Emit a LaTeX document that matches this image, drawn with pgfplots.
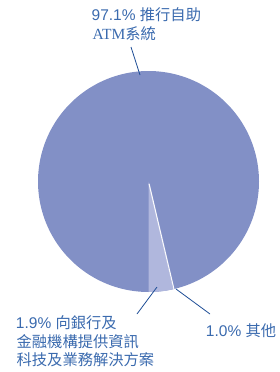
\documentclass[border=0pt]{standalone}
\usepackage{fontspec}
\setmainfont{Liberation Sans}
\newfontfamily\cjk{Noto Sans CJK TC}[Scale=0.985]
\newfontfamily\serif{Liberation Serif}
\usepackage{pgfplots}
\pgfplotsset{compat=1.18}
\definecolor{pieMain}{HTML}{8290C6}
\definecolor{pieLight}{HTML}{B0B7DD}
\definecolor{txt}{HTML}{3A6AAE}
\definecolor{lead}{HTML}{1F4E96}
\begin{document}
\begin{tikzpicture}[x=1bp,y=1bp]
\begin{axis}[scale only axis,
  width=221bp, height=221bp, xmin=-1, xmax=1, ymin=-1, ymax=1,
  hide axis, clip=false]
% 97.1% slice (drawn as full disc, others on top)
\addplot[fill=pieMain, draw=none, domain=0:360, samples=181] ({cos(x)},{sin(x)}) -- cycle;
% 1.9% slice
\addplot[fill=pieLight, draw=none, domain=270:283, samples=20] ({cos(x)},{sin(x)}) -- (axis cs:0,0) -- cycle;
% 1.0% slice separator
\addplot[white!92!pieLight, line width=1.1bp] coordinates {(0.005,-0.02) (0.2300,-0.9732)};
\end{axis}
\begin{scope}[shift={(-38,-80)}]
\path (0,0) rectangle (280,372);
\draw[lead, line width=0.8bp] (131,325) -- (140,297);
\draw[lead, line width=0.8bp] (137,58) -- (157,85);
\draw[lead, line width=0.8bp] (176,83) -- (210,58);
\begin{scope}[every node/.style={anchor=base west, inner sep=0pt, text=txt, font=\fontsize{15.5bp}{18bp}\selectfont}]
\node at (91.5,351.2) {97.1\% {\cjk 推行自助}};
\node at (92.5,333) {{\serif ATM}{\cjk 系統}};
\node at (15.8,43.7) {1.9\% {\cjk 向銀行及}};
\node at (16.5,25) {\cjk 金融機構提供資訊};
\node at (16.5,6.5) {\cjk 科技及業務解決方案};
\node at (205.8,36) {1.0\% {\cjk 其他}};
\end{scope}
\end{scope}
\end{tikzpicture}
\end{document}
